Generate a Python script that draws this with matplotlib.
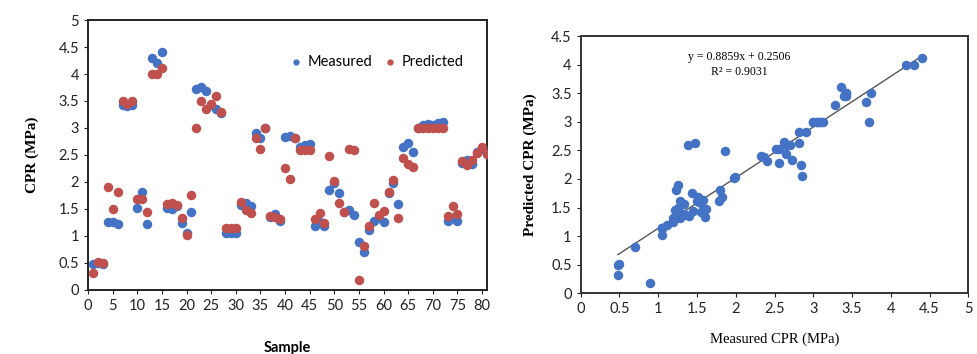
import matplotlib.pyplot as plt
import numpy as np
from matplotlib.ticker import FormatStrFormatter, MultipleLocator

# CPR values per sample
measured = [0.48, 0.5, 0.48, 1.25, 1.26, 1.23, 3.42, 3.4, 3.42, 1.51,
            1.82, 1.22, 4.3, 4.2, 4.4, 1.52, 1.5, 1.55, 1.24, 1.05,
            1.44, 3.72, 3.75, 3.68, 3.42, 3.36, 3.28, 1.05, 1.05, 1.05,
            1.58, 1.62, 1.55, 2.9, 2.82, 3.0, 1.35, 1.4, 1.28, 2.84,
            2.86, 2.82, 2.65, 2.68, 2.7, 1.19, 1.25, 1.19, 1.86, 1.98,
            1.79, 1.45, 1.48, 1.39, 0.89, 0.7, 1.11, 1.28, 1.33, 1.25,
            1.8, 1.99, 1.6, 2.65, 2.72, 2.56, 3.0, 3.05, 3.08, 3.05,
            3.1, 3.12, 1.28, 1.33, 1.27, 2.36, 2.4, 2.33, 2.56, 2.62,
            2.52]
predicted = [0.32, 0.52, 0.5, 1.9, 1.5, 1.81, 3.5, 3.45, 3.5, 1.68,
             1.68, 1.45, 4.0, 4.0, 4.12, 1.6, 1.62, 1.58, 1.33, 1.02,
             1.76, 3.0, 3.5, 3.35, 3.45, 3.6, 3.3, 1.15, 1.15, 1.15,
             1.63, 1.48, 1.42, 2.82, 2.62, 3.0, 1.37, 1.35, 1.32, 2.25,
             2.05, 2.82, 2.6, 2.6, 2.6, 1.31, 1.43, 1.24, 2.48, 2.02,
             1.62, 1.44, 2.62, 2.6, 0.18, 0.81, 1.19, 1.62, 1.38, 1.47,
             1.81, 2.04, 1.33, 2.44, 2.33, 2.28, 3.0, 3.0, 3.0, 3.0,
             3.0, 3.0, 1.37, 1.56, 1.4, 2.39, 2.31, 2.4, 2.53, 2.65,
             2.52]
samples = np.arange(1, len(measured) + 1)

slope = 0.8859
intercept = 0.2506
r2 = 0.9031

blue = "#4472C4"
red = "#C0504D"

plt.rcParams["font.family"] = ["Lato", "DejaVu Sans"]

fig = plt.figure(figsize=(9.77, 3.54), dpi=100)

# Left: measured and predicted per sample
ax1 = fig.add_axes([0.0901, 0.1808, 0.4084, 0.7627])
ax1.scatter(samples, measured, s=34, color=blue, label="Measured", zorder=3)
ax1.scatter(samples, predicted, s=34, color=red, label="Predicted", zorder=3)
ax1.set_xlim(0, 81)
ax1.set_ylim(0, 5)
ax1.xaxis.set_major_locator(MultipleLocator(5))
ax1.yaxis.set_major_locator(MultipleLocator(0.5))
ax1.yaxis.set_major_formatter(FormatStrFormatter("%g"))
ax1.tick_params(direction="out", length=3, labelsize=10.5, colors="#222222")
ax1.set_xlabel("Sample", fontsize=10.5, fontweight="bold", labelpad=20)
ax1.set_ylabel("CPR (MPa)", fontsize=11, fontweight="bold",
               family="Liberation Serif", labelpad=14)
for sp in ax1.spines.values():
    sp.set_linewidth(1.4)
    sp.set_color("#222222")
ax1.legend(loc="upper right", bbox_to_anchor=(0.975, 0.92), ncol=2, frameon=False,
           fontsize=10.5, handletextpad=-0.2, columnspacing=0.2, markerscale=0.6)

# Right: measured vs predicted with linear trendline
ax2 = fig.add_axes([0.5944, 0.1715, 0.3967, 0.7268])
ax2.scatter(measured, predicted, s=34, color=blue, zorder=3)
xl = np.array([min(measured), max(measured)])
ax2.plot(xl, slope * xl + intercept, color="#555555", lw=1.0, zorder=2)
ax2.set_xlim(0, 5)
ax2.set_ylim(0, 4.5)
ax2.xaxis.set_major_locator(MultipleLocator(0.5))
ax2.yaxis.set_major_locator(MultipleLocator(0.5))
ax2.xaxis.set_major_formatter(FormatStrFormatter("%g"))
ax2.yaxis.set_major_formatter(FormatStrFormatter("%g"))
ax2.tick_params(direction="out", length=3, labelsize=10.5, colors="#222222")
ax2.set_xlabel("Measured CPR (MPa)", fontsize=10.5, family="Liberation Serif",
               labelpad=12)
ax2.set_ylabel("Predicted CPR (MPa)", fontsize=11, fontweight="bold",
               family="Liberation Serif", labelpad=10)
for sp in ax2.spines.values():
    sp.set_linewidth(1.4)
    sp.set_color("#333333")
ax2.text(2.05, 4.0, f"y = {slope}x + {intercept}\nR\u00b2 = {r2}", fontsize=8.5,
         family="Liberation Serif", ha="center", va="center", linespacing=1.3)

fig.savefig("out.png", dpi=100)
